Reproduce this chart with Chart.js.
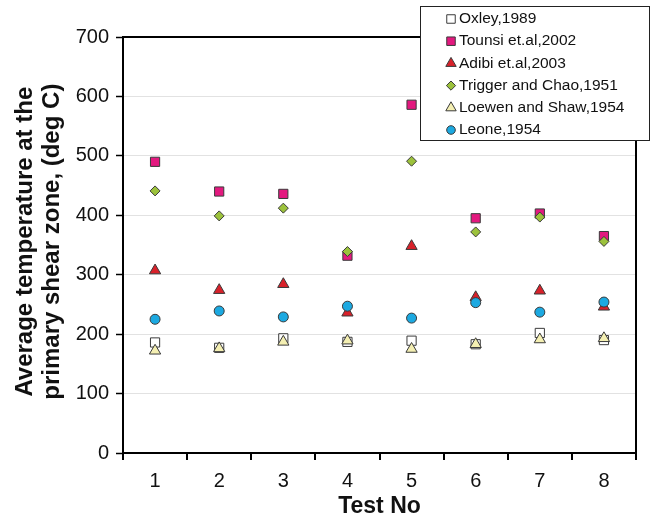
<!DOCTYPE html>
<html>
<head>
<meta charset="utf-8">
<script src="https://cdn.jsdelivr.net/npm/chart.js"></script>
<style>
  html, body { margin: 0; padding: 0; background: #fff; }
  #wrap { position: relative; width: 653px; height: 520px; }
</style>
</head>
<body>
<div id="wrap"><canvas id="temps"></canvas></div>
<script>
// values (deg C)
const tests = ["1", "2", "3", "4", "5", "6", "7", "8"];
const yTicks = [0, 100, 200, 300, 400, 500, 600, 700];

const oxley   = [186, 177, 193, 187, 189, 183, 202, 190];
const tounsi  = [490, 440, 436, 332, 586, 395, 403, 365];
const adibi   = [307, 274, 284, 236, 348, 262, 273, 246];
const trigger = [441, 399, 412, 339, 491, 372, 397, 356];
const loewen  = [172, 176, 187, 189, 175, 183, 191, 193];
const leone   = [225, 239, 229, 247, 227, 253, 237, 254];

const font = "'Liberation Sans', Arial, sans-serif";

// later series sit on top of earlier ones, as in the original
function series(label, data, style, fill, radius, order) {
  return {
    label: label,
    data: data,
    order: order,
    showLine: false,
    pointStyle: style,
    pointRadius: radius,
    pointHoverRadius: radius,
    pointBackgroundColor: fill,
    pointBorderColor: "#3a3a3a",
    pointBorderWidth: 1,
    backgroundColor: fill,
    borderColor: "#3a3a3a"
  };
}

// frame on top and right side of the plot
const frame = {
  id: "frame",
  afterDraw(chart) {
    const a = chart.chartArea, ctx = chart.ctx;
    ctx.save();
    ctx.strokeStyle = "#000";
    ctx.lineWidth = 2;
    ctx.beginPath();
    ctx.moveTo(a.left, a.top);
    ctx.lineTo(a.right, a.top);
    ctx.lineTo(a.right, a.bottom);
    ctx.stroke();
    ctx.restore();
  }
};

function marker(ctx, style, x, y, r) {
  ctx.beginPath();
  if (style === "rect") {
    const s = r * Math.SQRT1_2;
    ctx.rect(x - s, y - s, 2 * s, 2 * s);
  } else if (style === "rectRot") {
    ctx.moveTo(x, y - r); ctx.lineTo(x + r, y); ctx.lineTo(x, y + r); ctx.lineTo(x - r, y);
    ctx.closePath();
  } else if (style === "triangle") {
    ctx.moveTo(x, y - r);
    ctx.lineTo(x + r * 0.866, y + r * 0.5);
    ctx.lineTo(x - r * 0.866, y + r * 0.5);
    ctx.closePath();
  } else {
    ctx.arc(x, y, r, 0, Math.PI * 2);
  }
  ctx.fill();
  ctx.stroke();
}

const legendSize = { rect: 6, triangle: 6, rectRot: 4.6, circle: 4.3 };

// boxed legend that overlaps the top right corner, like the original
const boxLegend = {
  id: "boxLegend",
  afterDraw(chart) {
    const ctx = chart.ctx;
    const box = { x: 420, y: 6, w: 229, h: 134 };
    ctx.save();
    ctx.fillStyle = "#fff";
    ctx.fillRect(box.x, box.y, box.w, box.h);
    ctx.strokeStyle = "#222";
    ctx.lineWidth = 1;
    ctx.strokeRect(box.x + 0.5, box.y + 0.5, box.w, box.h);
    ctx.font = "15.5px " + font;
    ctx.textBaseline = "middle";
    chart.data.datasets.forEach((ds, i) => {
      const y = box.y + 12 + i * 22.2;
      ctx.fillStyle = ds.pointBackgroundColor;
      ctx.strokeStyle = "#3a3a3a";
      marker(ctx, ds.pointStyle, box.x + 31, y + 1, legendSize[ds.pointStyle]);
      ctx.fillStyle = "#111";
      ctx.fillText(ds.label, box.x + 39, y + 1);
    });
    ctx.restore();
  }
};

new Chart("temps", {
  type: "line",
  data: {
    labels: tests,
    datasets: [
      series("Oxley,1989", oxley, "rect", "#ffffff", 6.5, 6),
      series("Tounsi et.al,2002", tounsi, "rect", "#e3197f", 6.5, 5),
      series("Adibi et.al,2003", adibi, "triangle", "#d8212a", 6.5, 4),
      series("Trigger and Chao,1951", trigger, "rectRot", "#9cc23c", 5, 3),
      series("Loewen and Shaw,1954", loewen, "triangle", "#f4efb2", 6.5, 2),
      series("Leone,1954", leone, "circle", "#1ca9e1", 5, 1)
    ]
  },
  options: {
    responsive: true,
    maintainAspectRatio: false,
    animation: false,
    layout: { padding: { top: 37, right: 17, left: 0, bottom: 0 } },
    plugins: {
      legend: { display: false },
      tooltip: { enabled: false }
    },
    scales: {
      x: {
        type: "category",
        offset: true,
        grid: { offset: true, drawOnChartArea: false, drawTicks: true, tickLength: 7, color: "#000", lineWidth: 2 },
        border: { display: true, color: "#000", width: 2 },
        ticks: { color: "#111", padding: 9, font: { family: font, size: 20 } },
        title: {
          display: true,
          text: "Test No",
          color: "#111",
          padding: { top: 0, bottom: 0 },
          font: { family: font, size: 23, weight: "bold" }
        },
        afterFit(scale) { scale.height = 67; }
      },
      y: {
        min: 0,
        max: 700,
        afterBuildTicks(scale) { scale.ticks = yTicks.map(v => ({ value: v })); },
        grid: { color: "#e2e2e2", tickColor: "#000", tickLength: 7, lineWidth: 1, tickWidth: 1.5 },
        border: { display: true, color: "#000", width: 2 },
        ticks: { color: "#111", padding: 7, font: { family: font, size: 20 } },
        title: {
          display: true,
          text: [" Average temperature at the", " primary shear zone, (deg C)"],
          color: "#111",
          padding: { top: 12, bottom: 0 },
          font: { family: font, size: 24, weight: "bold", lineHeight: 1.12 }
        },
        afterFit(scale) { scale.width = 123; }
      }
    }
  },
  plugins: [frame, boxLegend]
});
</script>
</body>
</html>
